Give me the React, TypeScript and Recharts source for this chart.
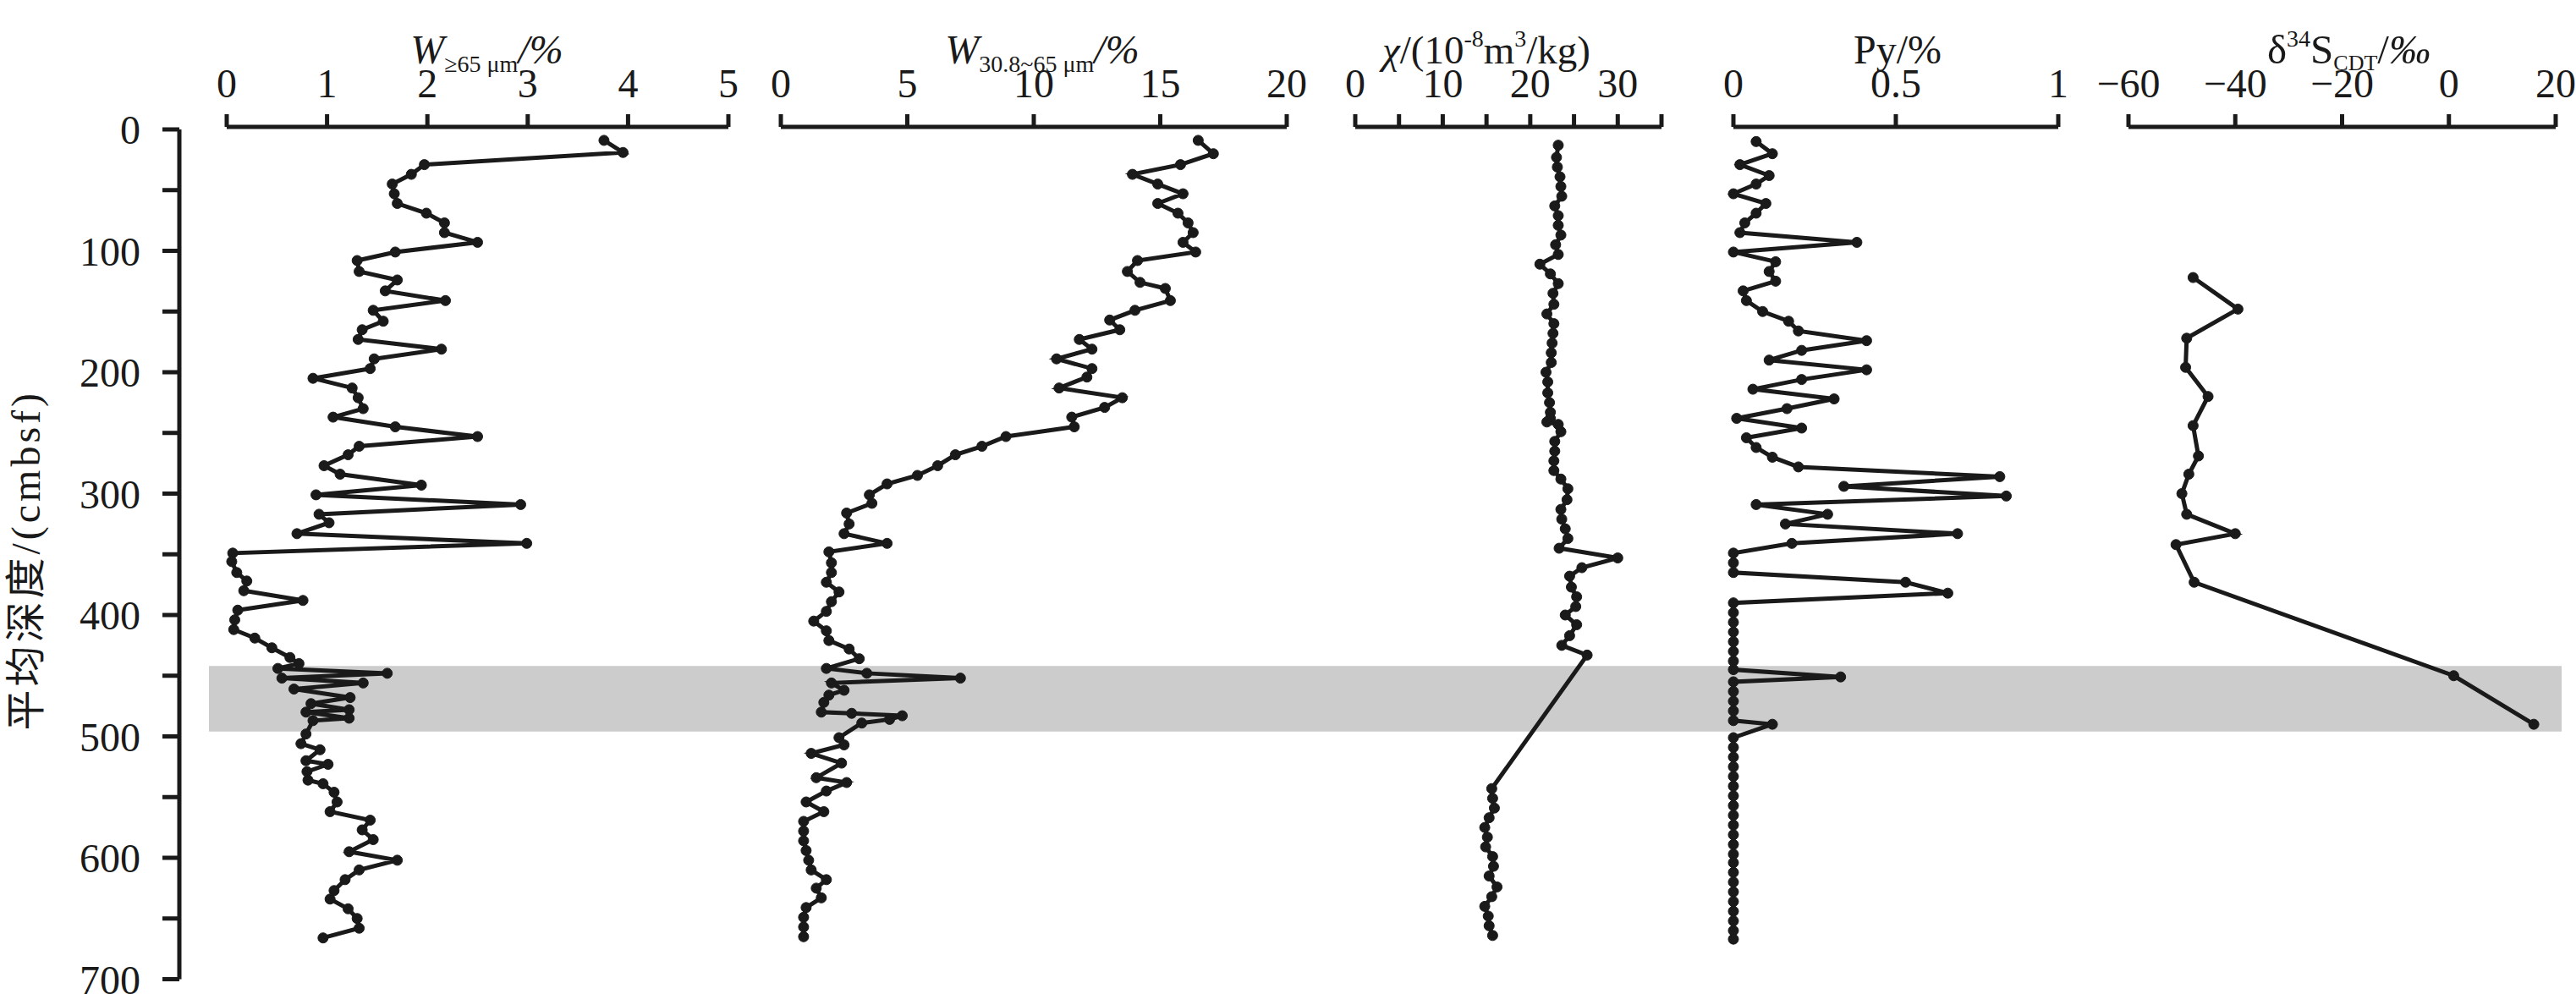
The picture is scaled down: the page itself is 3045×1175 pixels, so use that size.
import React from 'react';
import { LineChart, Line, XAxis, YAxis, ReferenceArea } from 'recharts';

const INK = '#1a1a1a';
const FONT = '"Liberation Serif", "Times New Roman", "Noto Sans CJK SC", serif';

// [depth (cmbsf), value]
const W65: [number, number][] = [
  [9, 3.76], [19, 3.95], [29, 1.97], [37, 1.84], [45, 1.65], [53, 1.67], [61, 1.7], [69, 1.99],
  [77, 2.17], [85, 2.17], [93, 2.5], [101, 1.68], [108, 1.3], [117, 1.32], [124, 1.7], [133, 1.58],
  [141, 2.18], [149, 1.46], [158, 1.56], [165, 1.35], [173, 1.31], [181, 2.14], [189, 1.47], [197, 1.43],
  [205, 0.86], [213, 1.25], [221, 1.31], [230, 1.36], [237, 1.06], [245, 1.68], [253, 2.5], [261, 1.32],
  [268, 1.21], [277, 0.97], [284, 1.13], [293, 1.94], [301, 0.89], [309, 2.93], [317, 0.92], [324, 1.02],
  [333, 0.7], [341, 2.99], [349, 0.06], [356, 0.05], [365, 0.1], [372, 0.2], [380, 0.17], [388, 0.76],
  [396, 0.11], [404, 0.08], [412, 0.07], [419, 0.28], [427, 0.45], [435, 0.63], [440, 0.72], [444, 0.51],
  [448, 1.6], [452, 0.55], [456, 1.36], [461, 0.67], [468, 1.23], [473, 0.84], [478, 1.22], [480, 0.79],
  [485, 1.22], [487, 0.86], [498, 0.79], [506, 0.74], [511, 0.93], [520, 0.79], [523, 1.01], [529, 0.8],
  [536, 0.81], [539, 0.96], [546, 1.07], [554, 1.1], [562, 1.03], [569, 1.43], [577, 1.35], [585, 1.46],
  [595, 1.22], [602, 1.7], [610, 1.32], [618, 1.18], [627, 1.07], [634, 1.03], [642, 1.21], [650, 1.3],
  [658, 1.32], [666, 0.96],
];

const W30: [number, number][] = [
  [9, 16.5], [20, 17.1], [29, 15.8], [37, 13.9], [45, 14.9], [53, 15.9], [61, 14.9], [69, 15.7],
  [77, 16.1], [85, 16.3], [93, 15.9], [101, 16.4], [108, 14.1], [117, 13.7], [126, 14.2], [131, 15.2],
  [141, 15.4], [149, 14.0], [157, 13.0], [165, 13.4], [173, 11.8], [181, 12.3], [189, 10.9], [197, 12.3],
  [204, 12.1], [213, 11.0], [221, 13.5], [229, 12.8], [237, 11.5], [245, 11.6], [253, 8.9], [261, 7.95],
  [268, 6.9], [277, 6.2], [285, 5.4], [292, 4.2], [301, 3.5], [308, 3.6], [316, 2.6], [325, 2.7],
  [333, 2.5], [341, 4.2], [348, 1.9], [357, 2.0], [365, 2.0], [373, 1.8], [381, 2.3], [389, 2.0],
  [397, 1.8], [405, 1.3], [413, 1.8], [421, 1.9], [428, 2.7], [436, 3.1], [444, 1.8], [448, 3.4],
  [452, 7.1], [456, 2.0], [462, 2.5], [466, 1.9], [472, 1.7], [480, 1.6], [481, 2.8], [483, 4.8],
  [486, 4.3], [489, 3.2], [501, 2.3], [507, 2.5], [514, 1.2], [522, 2.4], [534, 1.4], [538, 2.6],
  [545, 1.8], [554, 1.0], [562, 1.7], [570, 0.9], [578, 0.9], [586, 0.9], [594, 1.0], [602, 1.1],
  [610, 1.2], [618, 1.8], [625, 1.4], [633, 1.6], [641, 1.0], [649, 0.9], [657, 0.9], [665, 0.9],
];

const CHI: [number, number][] = [
  [13, 23.2], [23, 23.0], [31, 23.1], [39, 23.4], [47, 23.5], [55, 23.6], [63, 22.8], [71, 23.2],
  [79, 23.2], [87, 23.5], [95, 22.9], [103, 23.2], [111, 21.1], [119, 22.3], [127, 23.2], [135, 22.6],
  [144, 22.7], [152, 21.9], [160, 22.7], [168, 22.6], [176, 22.5], [184, 22.4], [192, 22.4], [200, 21.8],
  [208, 22.0], [217, 22.0], [225, 22.2], [233, 22.3], [238, 22.3], [241, 21.9], [243, 23.2], [249, 23.5],
  [257, 22.8], [265, 22.8], [273, 22.7], [281, 22.7], [288, 23.5], [296, 24.3], [305, 24.2], [313, 23.5],
  [321, 23.6], [329, 24.0], [337, 24.3], [345, 23.3], [353, 30.0], [361, 25.9], [368, 24.5], [377, 24.7],
  [385, 25.3], [393, 25.2], [400, 24.0], [408, 25.3], [417, 24.5], [425, 23.6], [433, 26.5], [543, 15.6],
  [551, 15.7], [559, 15.9], [567, 15.3], [575, 14.8], [583, 15.1], [591, 14.9], [599, 15.7], [607, 15.8],
  [615, 15.3], [624, 16.2], [632, 15.6], [640, 14.8], [648, 15.2], [656, 15.3], [664, 15.7],
];

const PY: [number, number][] = [
  [10, 0.07], [20, 0.12], [29, 0.02], [38, 0.11], [45, 0.07], [53, 0], [61, 0.1], [69, 0.07],
  [77, 0.035], [85, 0.02], [93, 0.38], [101, 0], [109, 0.13], [117, 0.11], [125, 0.13], [133, 0.03],
  [141, 0.04], [150, 0.09], [158, 0.17], [166, 0.2], [174, 0.41], [182, 0.21], [190, 0.11], [198, 0.41],
  [206, 0.21], [214, 0.06], [222, 0.31], [230, 0.165], [238, 0.01], [246, 0.21], [254, 0.04], [262, 0.07],
  [270, 0.12], [278, 0.2], [286, 0.82], [294, 0.34], [302, 0.84], [309, 0.07], [317, 0.29], [325, 0.16],
  [333, 0.69], [341, 0.18], [349, 0], [357, 0], [365, 0], [373, 0.53], [382, 0.66], [390, 0],
  [398, 0], [406, 0], [414, 0], [422, 0], [430, 0], [438, 0], [445, 0], [451, 0.33],
  [455, 0], [463, 0], [471, 0], [479, 0], [487, 0], [490, 0.12], [501, 0], [509, 0],
  [517, 0], [525, 0], [533, 0], [541, 0], [549, 0], [557, 0], [565, 0], [573, 0],
  [581, 0], [589, 0], [597, 0], [604, 0], [612, 0], [620, 0], [628, 0], [636, 0],
  [644, 0], [652, 0], [660, 0], [667, 0],
];

const D34S: [number, number][] = [
  [122, -47.9], [148, -39.5], [172, -49.1], [196, -49.3], [220, -45.1], [244, -47.9], [269, -46.9],
  [284, -48.7], [300, -50], [317, -49.1], [333, -40], [342, -51.1], [373, -47.7], [450, 0.9], [490, 15.9],
];

const DEPTH_TICKS = [0, 50, 100, 150, 200, 250, 300, 350, 400, 450, 500, 550, 600, 650, 700];
const W65_TICKS = [0, 1, 2, 3, 4, 5];
const W30_TICKS = [0, 5, 10, 15, 20];
const CHI_TICKS = [0, 5, 10, 15, 20, 25, 30, 35];
const PY_TICKS = [0, 0.5, 1];
const D34S_TICKS = [-60, -40, -20, 0, 20];
const BAND = [442, 496];

const W = 3045;
const H = 1175;
const PLOT_BOTTOM = 17.5;
const PAD = 70;

const tickStyle = { fill: INK, fontSize: 48, fontFamily: FONT };

function Title({ viewBox, dx = 0, y = 38, size = 48, children }: any) {
  const cx = viewBox ? viewBox.x + viewBox.width / 2 + dx : 0;
  return (
    <text x={cx} y={y} textAnchor="middle" fill={INK} fontFamily={FONT} fontSize={size}>
      {children}
    </text>
  );
}

function DepthLabel({ viewBox }: any) {
  const cy = viewBox ? viewBox.y + viewBox.height / 2 + 7 : 0;
  return (
    <text
      x={30}
      y={cy}
      transform={`rotate(-90, 30, ${cy})`}
      textAnchor="middle"
      dominantBaseline="central"
      fill={INK}
      fontFamily={FONT}
      fontSize={48}
      letterSpacing={4}
    >
      平均深度/(cmbsf)
    </text>
  );
}

interface PanelProps {
  x0: number;
  x1: number;
  data: [number, number][];
  domain: [number, number];
  ticks: number[];
  fmt?: (v: number) => string;
  title: React.ReactElement;
}

function Panel({ x0, x1, data, domain, ticks, fmt, title }: PanelProps) {
  const rows = data.map(([depth, v]) => ({ depth, v }));
  return (
    <div style={{ position: 'absolute', left: x0 - PAD, top: 0 }}>
      <LineChart
        layout="vertical"
        width={x1 - x0 + PAD * 2}
        height={H}
        data={rows}
        margin={{ top: 0, right: PAD, bottom: PLOT_BOTTOM, left: PAD }}
      >
        <XAxis
          type="number"
          orientation="top"
          domain={domain}
          ticks={ticks}
          interval={0}
          height={150}
          tickSize={15}
          tickMargin={20}
          tick={tickStyle}
          tickFormatter={fmt}
          axisLine={{ stroke: INK, strokeWidth: 5 }}
          tickLine={{ stroke: INK, strokeWidth: 5 }}
          label={title}
        />
        <YAxis type="number" dataKey="depth" domain={[0, 700]} hide padding={{ top: 3, bottom: 0 }} />
        <Line
          dataKey="v"
          stroke={INK}
          strokeWidth={5}
          dot={{ r: 6, fill: INK, stroke: INK, strokeWidth: 1 }}
          isAnimationActive={false}
        />
      </LineChart>
    </div>
  );
}

const minus = (v: number) => (v < 0 ? `\u2212${Math.abs(v)}` : String(v));

export default function App() {
  const bandRows = [{ depth: 0, v: 0 }, { depth: 700, v: 1 }];
  return (
    <div style={{ position: 'absolute', left: 0, top: 0, width: W, height: H, background: '#fff' }}>
      {/* shaded interval */}
      <div style={{ position: 'absolute', left: 247, top: 0 }}>
        <LineChart width={3028 - 247} height={H} data={bandRows} margin={{ top: 153, right: 0, bottom: PLOT_BOTTOM, left: 0 }}>
          <XAxis type="number" dataKey="v" domain={[0, 1]} hide />
          <YAxis type="number" dataKey="depth" domain={[0, 700]} reversed hide />
          <ReferenceArea y1={BAND[0]} y2={BAND[1]} fill="#cccccc" fillOpacity={1} stroke="none" />
        </LineChart>
      </div>

      {/* depth axis */}
      <div style={{ position: 'absolute', left: 0, top: 0 }}>
        <LineChart width={240} height={H} data={bandRows} margin={{ top: 153, right: 0, bottom: PLOT_BOTTOM, left: 0 }}>
          <XAxis type="number" dataKey="v" domain={[0, 1]} hide />
          <YAxis
            type="number"
            dataKey="depth"
            domain={[0, 700]}
            reversed
            width={212}
            ticks={DEPTH_TICKS}
            interval={0}
            tickSize={20}
            tickMargin={26}
            tick={tickStyle}
            tickFormatter={(v: number) => (v % 100 === 0 ? String(v) : '')}
            axisLine={{ stroke: INK, strokeWidth: 5 }}
            tickLine={{ stroke: INK, strokeWidth: 5 }}
            label={<DepthLabel />}
          />
        </LineChart>
      </div>

      <Panel
        x0={268}
        x1={861}
        data={W65}
        domain={[0, 5]}
        ticks={W65_TICKS}
        title={
          <Title dx={11} y={36}>
            <tspan fontStyle="italic">W</tspan>
            <tspan fontSize={28} dy={10}>{'\u2265'}65 μm</tspan>
            <tspan fontStyle="italic" dy={-10}>/%</tspan>
          </Title>
        }
      />
      <Panel
        x0={923}
        x1={1521}
        data={W30}
        domain={[0, 20]}
        ticks={W30_TICKS}
        title={
          <Title dx={10} y={36}>
            <tspan fontStyle="italic">W</tspan>
            <tspan fontSize={28} dy={10}>30.8~65 μm</tspan>
            <tspan fontStyle="italic" dy={-10}>/%</tspan>
          </Title>
        }
      />
      <Panel
        x0={1602}
        x1={1964}
        data={CHI}
        domain={[0, 35]}
        ticks={CHI_TICKS}
        fmt={(v: number) => (v % 10 === 0 ? String(v) : '')}
        title={
          <Title dx={-26} y={42} size={47}>
            <tspan fontStyle="italic">χ</tspan>
            <tspan>/(10</tspan>
            <tspan fontSize={28} dy={-20}>-8</tspan>
            <tspan dy={20}>m</tspan>
            <tspan fontSize={28} dy={-20}>3</tspan>
            <tspan dy={20}>/kg)</tspan>
          </Title>
        }
      />
      <Panel
        x0={2049}
        x1={2433}
        data={PY}
        domain={[0, 1]}
        ticks={PY_TICKS}
        title={
          <Title dx={2} y={38}>
            Py/%
          </Title>
        }
      />
      <Panel
        x0={2516}
        x1={3021}
        data={D34S}
        domain={[-60, 20]}
        ticks={D34S_TICKS}
        fmt={minus}
        title={
          <Title dx={8} y={43} size={49}>
            <tspan>δ</tspan>
            <tspan fontSize={28} dy={-20}>34</tspan>
            <tspan dy={20}>S</tspan>
            <tspan fontSize={26} dy={8}>CDT</tspan>
            <tspan dy={-8}>/</tspan>
            <tspan fontStyle="italic">‰</tspan>
          </Title>
        }
      />
    </div>
  );
}
